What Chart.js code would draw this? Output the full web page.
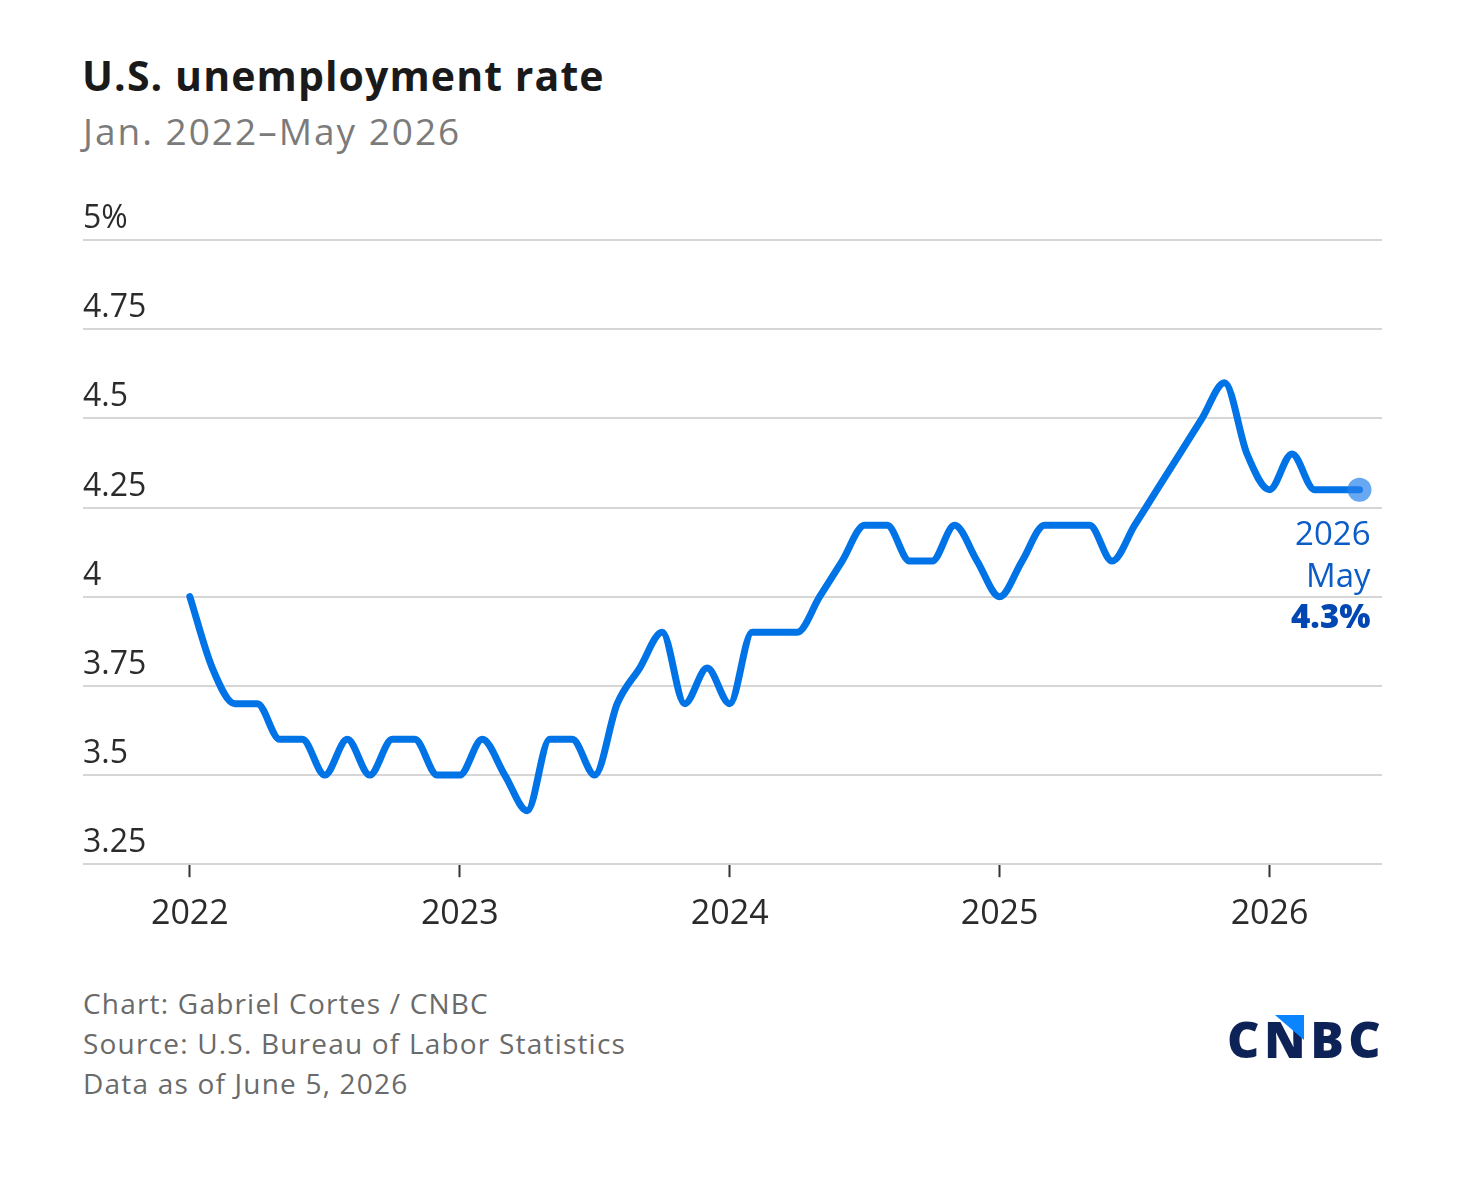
<!DOCTYPE html>
<html>
<head>
<meta charset="utf-8">
<script src="https://cdn.jsdelivr.net/npm/chart.js@4/dist/chart.umd.min.js"></script>
<style>
    body { margin: 0; background: #fff; width: 1470px; height: 1194px; position: relative; overflow: hidden; font-family: "Open Sans", sans-serif; }
    .title { position: absolute; left: 82px; top: 47px; font-size: 41px; font-weight: 700; color: #1a1a1a; letter-spacing: 1.1px; }
    .subtitle { position: absolute; left: 83px; top: 105px; font-size: 37px; color: #7b7b7b; letter-spacing: 2px; }
    .chartBox { position: absolute; left: 0; top: 0; width: 1470px; height: 960px; }
    .footer { position: absolute; left: 83px; top: 983px; font-size: 28px; line-height: 40px; color: #6a6a6a; letter-spacing: 1.2px; }
    .logo { position: absolute; left: 1227px; top: 1005px; font-size: 50px; font-weight: 800; color: #0d2357; letter-spacing: 4.5px; }
    .logo .tri { position: absolute; left: 48px; top: 10px; width: 29px; height: 25px; background: #0a84ff; clip-path: polygon(0 0, 100% 0, 100% 100%); }
</style>
</head>
<body>
<div class="title">U.S. unemployment rate</div>
<div class="subtitle">Jan. 2022–May 2026</div>
<div class="chartBox"><canvas id="unemploymentChart"></canvas></div>
<div class="footer">Chart: Gabriel Cortes / CNBC<br>Source: U.S. Bureau of Labor Statistics<br>Data as of June 5, 2026</div>
<div class="logo">CNBC<span class="tri"></span></div>
<script>
    // --- DATA ---
    // months since Jan. 2022 (0 = Jan. 2022)
    const yearTicks = [0, 12, 24, 36, 48];
    const yearLabels = ['2022', '2023', '2024', '2025', '2026'];
    const yTicks = [3.25, 3.5, 3.75, 4, 4.25, 4.5, 4.75, 5];
    const rates2022 = [4.0, 3.8, 3.7, 3.7, 3.6, 3.6, 3.5, 3.6, 3.5, 3.6, 3.6, 3.5];
    const rates2023 = [3.5, 3.6, 3.5, 3.4, 3.6, 3.6, 3.5, 3.7, 3.8, 3.9, 3.7, 3.8];
    const rates2024 = [3.7, 3.9, 3.9, 3.9, 4.0, 4.1, 4.2, 4.2, 4.1, 4.1, 4.2, 4.1];
    const rates2025 = [4.0, 4.1, 4.2, 4.2, 4.2, 4.1, 4.2, 4.3, 4.4, 4.5, 4.6, 4.4];
    const rates2026 = [4.3, 4.4, 4.3, 4.3, 4.3];
    const lastLabel = ['2026', 'May', '4.3%'];

    const rates = [...rates2022, ...rates2023, ...rates2024, ...rates2025, ...rates2026];
    const points = rates.map((v, i) => ({ x: i, y: v }));
    const lastIndex = points.length - 1;

    const LINE_BLUE = '#0073e6';
    const FONT = '"Open Sans", sans-serif';

    // end-of-line label under the last point
    const endLabelPlugin = {
        id: 'endLabel',
        afterDatasetsDraw(chart) {
            const pt = chart.getDatasetMeta(0).data[lastIndex];
            const ctx = chart.ctx;
            ctx.save();
            ctx.textAlign = 'right';
            ctx.textBaseline = 'middle';
            ctx.font = `33px ${FONT}`;
            ctx.fillStyle = '#0b5cc6';
            ctx.fillText(lastLabel[0], pt.x + 11, pt.y + 46);
            ctx.fillText(lastLabel[1], pt.x + 11, pt.y + 88);
            ctx.font = `800 33px ${FONT}`;
            ctx.fillStyle = '#0047b3';
            ctx.fillText(lastLabel[2], pt.x + 11, pt.y + 129);
            ctx.restore();
        }
    };

    const ctx = document.getElementById('unemploymentChart').getContext('2d');
    new Chart(ctx, {
        type: 'line',
        data: {
            datasets: [{
                data: points,
                borderColor: LINE_BLUE,
                borderWidth: 7,
                borderCapStyle: 'round',
                borderJoinStyle: 'round',
                cubicInterpolationMode: 'monotone',
                pointRadius: points.map((p, i) => i === lastIndex ? 12 : 0),
                pointBackgroundColor: 'rgba(40, 130, 235, 0.7)',
                pointBorderWidth: 0,
                pointHoverRadius: 0
            }]
        },
        options: {
            responsive: true,
            maintainAspectRatio: false,
            animation: false,
            layout: { padding: { left: 83, right: 88, top: 240, bottom: 8 } },
            plugins: { legend: { display: false }, tooltip: { enabled: false } },
            scales: {
                x: {
                    type: 'linear',
                    min: -4.75,
                    max: 53,
                    afterBuildTicks: (scale) => { scale.ticks = yearTicks.map(v => ({ value: v })); },
                    border: { display: false },
                    grid: { drawOnChartArea: false, drawTicks: true, tickLength: 13, tickWidth: 2, color: '#333' },
                    ticks: {
                        padding: 17,
                        color: '#2b2b2b',
                        font: { family: FONT, size: 34 },
                        callback: (v) => yearLabels[yearTicks.indexOf(v)],
                        maxRotation: 0
                    }
                },
                y: {
                    min: 3.25,
                    max: 5,
                    afterBuildTicks: (scale) => { scale.ticks = yTicks.map(v => ({ value: v })); },
                    border: { display: false },
                    grid: { color: '#d6d6d6', lineWidth: 2, drawTicks: false },
                    ticks: {
                        mirror: true,
                        padding: 0,
                        labelOffset: -21,
                        color: '#2b2b2b',
                        font: { family: FONT, size: 32 },
                        callback: (v) => v === 5 ? '5%' : String(v)
                    }
                }
            }
        },
        plugins: [endLabelPlugin]
    });
</script>
</body>
</html>
